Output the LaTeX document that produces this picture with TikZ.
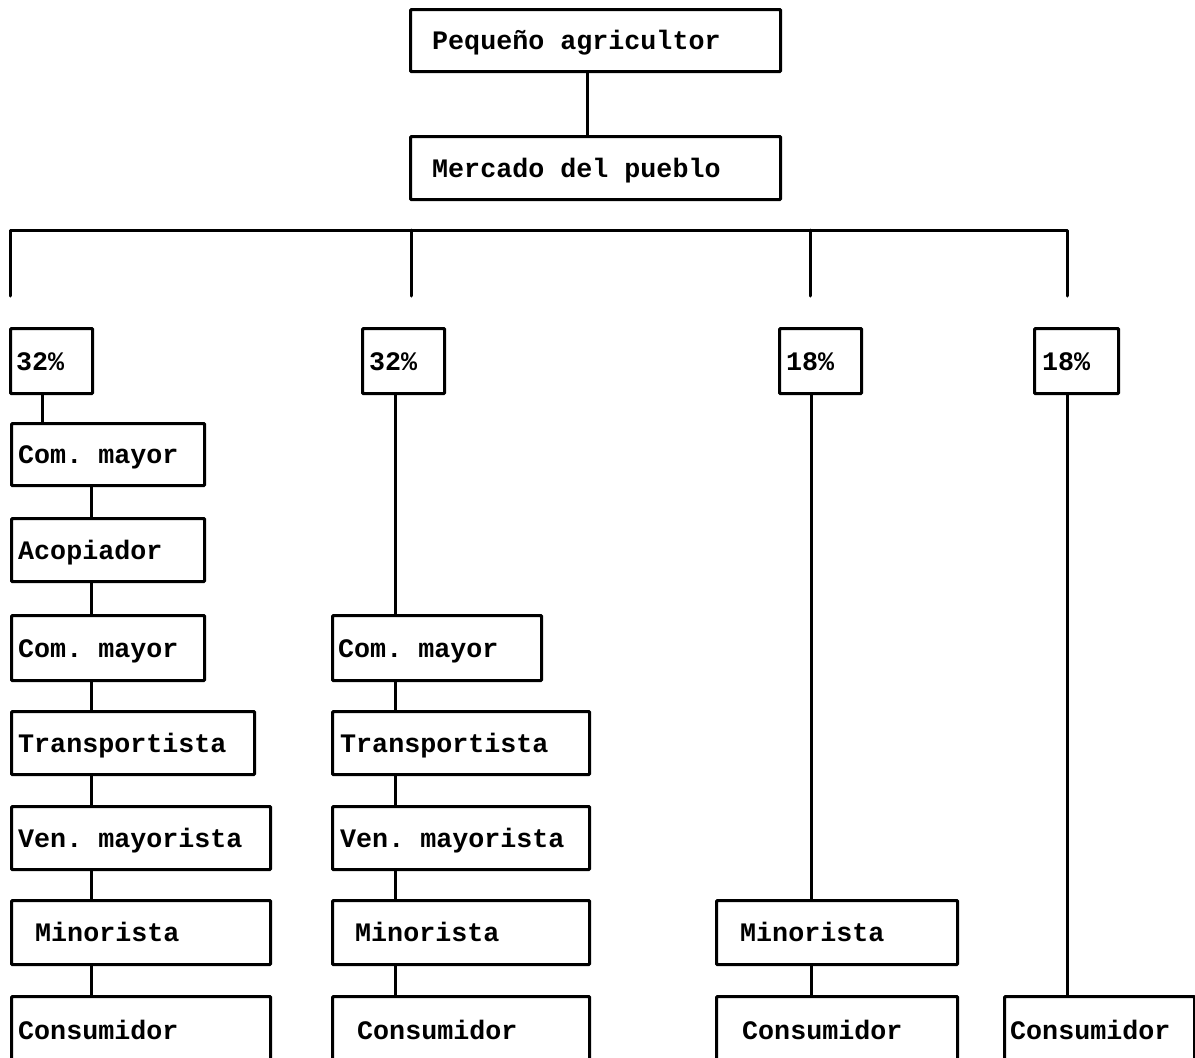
\documentclass[tikz,border=0pt]{standalone}
\usepackage{fontspec}
\setmonofont{Liberation Mono}
\tikzset{
  boxst/.style={draw=black, line width=3.2pt, rectangle, inner sep=0pt, rounded corners=1pt},
  txt/.style={anchor=base west, inner sep=0pt, font=\fontsize{26.7}{30}\selectfont\ttfamily\bfseries},
  conn/.style={line width=3pt, line cap=round}
}
% name, x1, y1, x2, y2, text x, text
\newcommand\bxnode[7]{%
  \node[boxst, minimum width={(#4-#2)*1pt}, minimum height={(#5-#3)*1pt}, anchor=north west] (#1) at (#2,#3) {};
  \node[txt] (#1-t) at (#6,{(#3+#5)/2+10.5}) {#7};}
\begin{document}
\begin{tikzpicture}[x=1pt,y=-1pt]
\useasboundingbox[fill=white] (0,0) rectangle (1195,1058);
% top
\bxnode{peq}{409}{8}{779}{70}{432}{Pequeño agricultor}
\bxnode{merc}{409}{135}{779}{198}{432}{Mercado del pueblo}
\draw[conn] ([xshift=-8pt]peq.south) -- ([xshift=-8pt]merc.north);
% bus
\coordinate (b1) at (10,230);
\coordinate (b2) at (411,230);
\coordinate (b3) at (810,230);
\coordinate (b4) at (1067,230);
\coordinate (e1) at (10,296);
\coordinate (e2) at (411,296);
\coordinate (e3) at (810,296);
\coordinate (e4) at (1067,296);
\draw[conn, line join=round] (e1) -- (b1) -- (b4) -- (e4);
\draw[conn] (b2) -- (e2);
\draw[conn] (b3) -- (e3);
% percentages
\bxnode{p1}{9}{327}{91}{392}{16}{32\%}
\bxnode{p2}{361}{327}{443}{392}{369}{32\%}
\bxnode{p3}{778}{327}{860}{392}{786}{18\%}
\bxnode{p4}{1033}{327}{1117}{392}{1042}{18\%}
% column 1
\bxnode{a1}{10}{422}{203}{484}{18}{Com. mayor}
\bxnode{a2}{10}{517}{203}{580}{18}{Acopiador}
\bxnode{a3}{10}{614}{203}{679}{18}{Com. mayor}
\bxnode{a4}{10}{710}{253}{773}{18}{Transportista}
\bxnode{a5}{10}{805}{269}{868}{18}{Ven. mayorista}
\bxnode{a6}{10}{899}{269}{963}{35}{Minorista}
\bxnode{a7}{10}{995}{269}{1062}{18}{Consumidor}
% column 2
\bxnode{c3}{331}{614}{540}{679}{338}{Com. mayor}
\bxnode{c4}{331}{710}{588}{773}{340}{Transportista}
\bxnode{c5}{331}{805}{588}{868}{340}{Ven. mayorista}
\bxnode{c6}{331}{899}{588}{963}{355}{Minorista}
\bxnode{c7}{331}{995}{588}{1062}{357}{Consumidor}
% column 3
\bxnode{d6}{715}{899}{956}{963}{740}{Minorista}
\bxnode{d7}{715}{995}{956}{1062}{742}{Consumidor}
% column 4
\bxnode{f7}{1003}{995}{1193}{1062}{1010}{Consumidor}
% connector x positions
\coordinate (xa) at (42,0);
\coordinate (xb) at (91,0);
\coordinate (xc) at (395,0);
\coordinate (xd) at (811,0);
\coordinate (xf) at (1067,0);
\draw[conn] (p1.south -| xa) -- (a1.north -| xa);
\draw[conn] (a1.south -| xb) -- (a2.north -| xb);
\draw[conn] (a2.south -| xb) -- (a3.north -| xb);
\draw[conn] (a3.south -| xb) -- (a4.north -| xb);
\draw[conn] (a4.south -| xb) -- (a5.north -| xb);
\draw[conn] (a5.south -| xb) -- (a6.north -| xb);
\draw[conn] (a6.south -| xb) -- (a7.north -| xb);
\draw[conn] (p2.south -| xc) -- (c3.north -| xc);
\draw[conn] (c3.south -| xc) -- (c4.north -| xc);
\draw[conn] (c4.south -| xc) -- (c5.north -| xc);
\draw[conn] (c5.south -| xc) -- (c6.north -| xc);
\draw[conn] (c6.south -| xc) -- (c7.north -| xc);
\draw[conn] (p3.south -| xd) -- (d6.north -| xd);
\draw[conn] (d6.south -| xd) -- (d7.north -| xd);
\draw[conn] (p4.south -| xf) -- (f7.north -| xf);
\end{tikzpicture}
\end{document}
